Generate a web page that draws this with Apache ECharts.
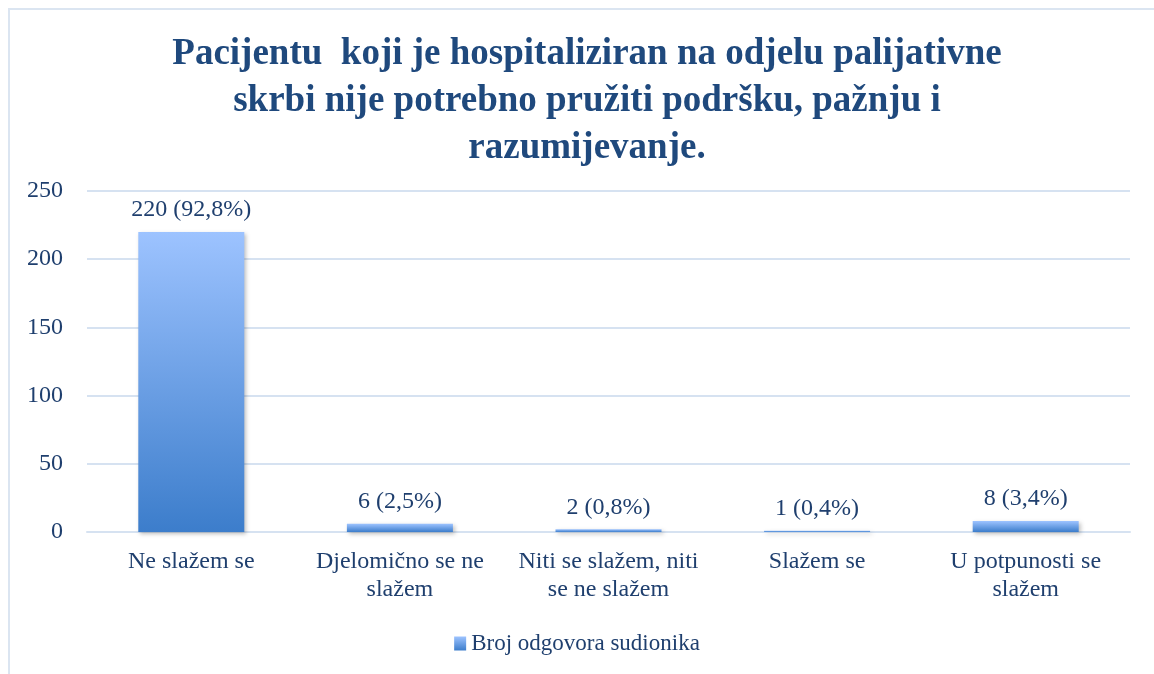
<!DOCTYPE html>
<html>
<head>
<meta charset="utf-8">
<script src="https://cdn.jsdelivr.net/npm/echarts@6/dist/echarts.min.js"></script>
<style>
    html, body { margin: 0; padding: 0; background: #fff; }
    #frame {
        position: absolute; left: 8px; top: 8px; width: 1146px; height: 666px;
        border-left: 2px solid #dbe5f1; border-top: 2px solid #dbe5f1;
        box-sizing: border-box;
    }
    #chart { position: absolute; left: 0; top: 0; width: 1154px; height: 674px; }
</style>
</head>
<body>
<div id="frame"></div>
<div id="chart"></div>
<script>
// Kategorije i vrijednosti
const categories = [
    'Ne slažem se',
    'Djelomično se ne\nslažem',
    'Niti se slažem, niti\nse ne slažem',
    'Slažem se',
    'U potpunosti se\nslažem'
];
const counts = [220, 6, 2, 1, 8];
const percents = ['92,8%', '2,5%', '0,8%', '0,4%', '3,4%'];
const yTicks = [0, 50, 100, 150, 200, 250];

const TEXT_COLOR = '#1f3f6e';
const SERIF = '"Liberation Serif", "DejaVu Serif", serif';

const chart = echarts.init(document.getElementById('chart'));

const barGradient = new echarts.graphic.LinearGradient(0, 0, 0, 1, [
    { offset: 0, color: '#9dc3ff' },
    { offset: 1, color: '#3c7dcb' }
]);

const option = {
    backgroundColor: 'transparent',
    animation: false,
    title: {
        text: 'Pacijentu  koji je hospitaliziran na odjelu palijativne\nskrbi nije potrebno pružiti podršku, pažnju i\nrazumijevanje.',
        left: 582,
        textAlign: 'center',
        top: 26,
        textStyle: {
            fontFamily: SERIF,
            fontWeight: 'bold',
            fontSize: 37,
            lineHeight: 47,
            color: '#1f497d'
        }
    },
    grid: {
        left: 87,
        right: 24,
        top: 191,
        bottom: 142
    },
    legend: {
        bottom: 14,
        left: 'center',
        itemWidth: 12,
        itemHeight: 14,
        itemGap: 4,
        textStyle: { fontFamily: SERIF, fontSize: 23, color: TEXT_COLOR },
        data: [{ name: 'Broj odgovora sudionika', icon: 'rect' }]
    },
    xAxis: {
        type: 'category',
        data: categories,
        axisLine: { lineStyle: { color: '#d6e2f1', width: 2 } },
        axisTick: { show: false },
        axisLabel: {
            fontFamily: SERIF,
            fontSize: 24,
            lineHeight: 28,
            color: TEXT_COLOR,
            margin: 16,
            interval: 0
        }
    },
    yAxis: {
        type: 'value',
        min: yTicks[0],
        max: yTicks[yTicks.length - 1],
        interval: 50,
        axisLine: { show: false },
        axisTick: { show: false },
        axisLabel: {
            fontFamily: SERIF,
            fontSize: 24,
            color: TEXT_COLOR,
            margin: 24
        },
        splitLine: { lineStyle: { color: '#d6e2f1', width: 2 } }
    },
    series: [{
        name: 'Broj odgovora sudionika',
        type: 'bar',
        data: counts,
        barWidth: 106,
        itemStyle: {
            color: barGradient,
            shadowColor: 'rgba(0,0,0,0.25)',
            shadowBlur: 4,
            shadowOffsetX: 2,
            shadowOffsetY: 2
        },
        label: {
            show: true,
            position: 'top',
            distance: 10,
            fontFamily: SERIF,
            fontSize: 24,
            color: TEXT_COLOR,
            formatter: p => `${counts[p.dataIndex]} (${percents[p.dataIndex]})`
        }
    }]
};

chart.setOption(option);
window.addEventListener('resize', () => chart.resize());
</script>
</body>
</html>
